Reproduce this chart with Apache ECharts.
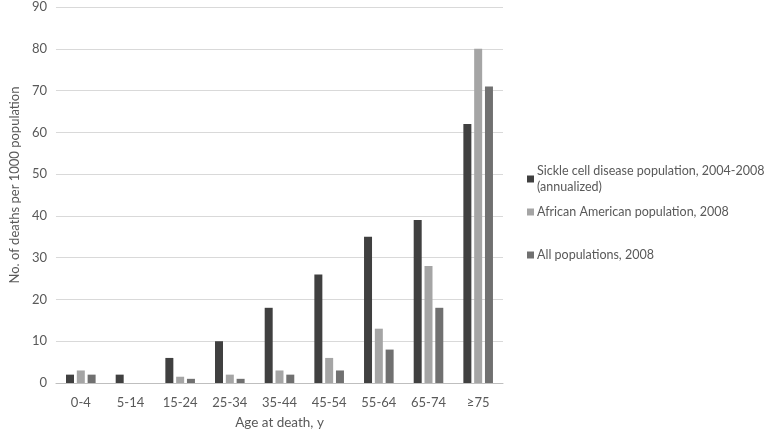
<!DOCTYPE html>
<html>
<head>
<meta charset="utf-8">
<script src="https://cdn.jsdelivr.net/npm/echarts@6/dist/echarts.min.js"></script>
<style>html,body{margin:0;padding:0;background:#fff}#c{width:768px;height:435px}</style>
</head>
<body>
<div id="c"></div>
<script>
var categories = ['0-4','5-14','15-24','25-34','35-44','45-54','55-64','65-74','≥75'];
var seriesNames = ['Sickle cell disease population, 2004-2008\n(annualized)', 'African American population, 2008', 'All populations, 2008'];
var sickleCell = [2, 2, 6, 10, 18, 26, 35, 39, 62];
var africanAmerican = [3, 0, 1.5, 2, 3, 6, 13, 28, 80];
var allPopulations = [2, 0, 1, 1, 2, 3, 8, 18, 71];
var colors = ['#404040', '#a5a5a5', '#707070'];
var FONT = 'Lato';
var chart = echarts.init(document.getElementById('c'));
var legendTops = [163, 204, 247];
var legends = seriesNames.map(function(n, i){
  return {
    data: [n], left: 527, top: legendTops[i], orient: 'vertical',
    itemWidth: 7, itemHeight: 7, itemGap: 0, icon: 'rect', padding: 0,
    textStyle: {fontFamily: FONT, fontSize: 12.5, color: '#595959', lineHeight: 16, padding: [0,0,0,-2]},
    selectedMode: false
  };
});
var vals = [sickleCell, africanAmerican, allPopulations];
chart.setOption({
  animation: false,
  color: colors,
  legend: legends,
  grid: {left: 48, right: 265, top: 7, bottom: 52},
  xAxis: {
    type: 'category', data: categories,
    axisLine: {lineStyle: {color: '#bfbfbf'}}, axisTick: {show: false},
    axisLabel: {fontFamily: FONT, fontSize: 13, color: '#595959', margin: 13},
    name: 'Age at death, y', nameLocation: 'middle', nameGap: 33,
    nameTextStyle: {fontFamily: FONT, fontSize: 13.5, color: '#595959'}
  },
  yAxis: {
    type: 'value', min: 0, max: 90, interval: 10,
    axisLine: {show: false}, axisTick: {show: false},
    splitLine: {lineStyle: {color: '#d9d9d9'}},
    axisLabel: {fontFamily: FONT, fontSize: 13, color: '#595959', margin: 9},
    name: 'No. of deaths per 1000 population', nameLocation: 'middle', nameGap: 33,
    nameTextStyle: {fontFamily: FONT, fontSize: 13, color: '#595959', padding: [0, 0, 0, 20]}
  },
  series: vals.map(function(v, i){
    return {type: 'bar', name: seriesNames[i], data: v, barWidth: 8, barGap: '35%',
      itemStyle: {color: colors[i]}};
  })
});
</script>
</body>
</html>
